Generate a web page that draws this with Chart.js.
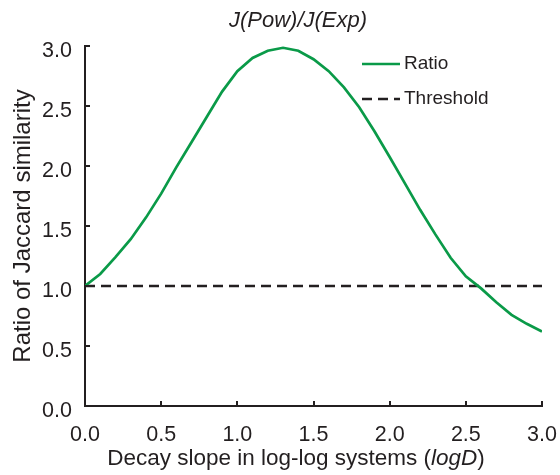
<!DOCTYPE html>
<html>
<head>
<meta charset="utf-8">
<script src="https://cdn.jsdelivr.net/npm/chart.js@4"></script>
<style>
  html, body { margin: 0; padding: 0; background: #fff; }
  #wrap { width: 560px; height: 475px; position: relative; }
</style>
</head>
<body>
<div id="wrap"><canvas id="c" width="560" height="475"></canvas></div>
<script>
// ---- data ----
const xValues = [0.0,0.1,0.2,0.3,0.4,0.5,0.6,0.7,0.8,0.9,1.0,1.1,1.2,1.3,1.4,1.5,1.6,1.7,1.8,1.9,2.0,2.1,2.2,2.3,2.4,2.5,2.6,2.7,2.8,2.9,3.0];
const ratioValues = [1.00,1.10,1.24,1.39,1.57,1.77,1.99,2.20,2.41,2.62,2.79,2.90,2.96,2.985,2.96,2.89,2.79,2.655,2.49,2.29,2.075,1.855,1.635,1.43,1.235,1.08,0.98,0.865,0.76,0.685,0.62];
const thresholdX = [0.0, 3.0];
const thresholdValues = [1.0, 1.0];
const xTickValues = [0.0,0.5,1.0,1.5,2.0,2.5,3.0];
const yTickValues = [0.0,0.5,1.0,1.5,2.0,2.5,3.0];
const seriesNames = ['Ratio', 'Threshold'];
const chartTitle = 'J(Pow)/J(Exp)';
const xTitleParts = [['Decay slope in log-log systems (', false], ['logD', true], [')', false]];
const yTitle = 'Ratio of Jaccard similarity';

const FONT = 'Arial, "Liberation Sans", sans-serif';
const INK = '#231f20';
const GREEN = '#0a9a48';

const ratioData = xValues.map((x, i) => ({x: x, y: ratioValues[i]}));
const thrData = thresholdX.map((x, i) => ({x: x, y: thresholdValues[i]}));

const decorPlugin = {
  id: 'decor',
  afterDraw(chart) {
    const ctx = chart.ctx;
    const xs = chart.scales.x, ys = chart.scales.y;
    ctx.save();
    // inward tick marks
    ctx.strokeStyle = INK;
    ctx.lineWidth = 2;
    const axX = xs.left, axY = ys.bottom;
    xTickValues.forEach(v => {
      const px = Math.round(xs.getPixelForValue(v));
      ctx.beginPath(); ctx.moveTo(px, axY); ctx.lineTo(px, axY - 5); ctx.stroke();
    });
    yTickValues.forEach(v => {
      const py = Math.round(ys.getPixelForValue(v));
      ctx.beginPath(); ctx.moveTo(axX, py); ctx.lineTo(axX + 5, py); ctx.stroke();
    });
    // title
    ctx.fillStyle = INK;
    ctx.font = 'italic 22px ' + FONT;
    ctx.textAlign = 'center';
    ctx.textBaseline = 'middle';
    ctx.fillText(chartTitle, 298, 21);
    // x title with italic part
    ctx.textAlign = 'left';
    ctx.textBaseline = 'alphabetic';
    let total = 0;
    xTitleParts.forEach(([t, it]) => { ctx.font = (it ? 'italic ' : '') + '22.5px ' + FONT; total += ctx.measureText(t).width; });
    let cx = 296 - total / 2;
    xTitleParts.forEach(([t, it]) => { ctx.font = (it ? 'italic ' : '') + '22.5px ' + FONT; ctx.fillText(t, cx, 465); cx += ctx.measureText(t).width; });
    // legend
    ctx.font = '19px ' + FONT;
    ctx.textBaseline = 'middle';
    ctx.lineWidth = 2.5;
    ctx.strokeStyle = GREEN;
    ctx.beginPath(); ctx.moveTo(362, 64); ctx.lineTo(400, 64); ctx.stroke();
    ctx.fillText(seriesNames[0], 404, 64);
    ctx.strokeStyle = INK;
    ctx.setLineDash([10, 6]);
    ctx.beginPath(); ctx.moveTo(362, 99); ctx.lineTo(400, 99); ctx.stroke();
    ctx.setLineDash([]);
    ctx.fillText(seriesNames[1], 404, 99);
    ctx.restore();
  }
};

new Chart(document.getElementById('c'), {
  type: 'line',
  data: {
    datasets: [
      { label: seriesNames[0], data: ratioData, borderColor: GREEN, borderWidth: 2.7, pointRadius: 0, tension: 0, fill: false },
      { label: seriesNames[1], data: thrData, borderColor: INK, borderWidth: 2.5, borderDash: [10, 6], pointRadius: 0, tension: 0, fill: false }
    ]
  },
  options: {
    responsive: false,
    animation: false,
    devicePixelRatio: 1,
    layout: { padding: { left: 0, right: 18, top: 46, bottom: 0 } },
    plugins: { legend: { display: false }, tooltip: { enabled: false }, title: { display: false } },
    scales: {
      x: {
        type: 'linear', min: 0, max: 3,
        afterFit(s) { s.height = 69; s.paddingRight = 0; s.paddingLeft = 0; },
        afterBuildTicks(s) { s.ticks = xTickValues.map(v => ({value: v})); },
        grid: { display: false, drawTicks: false },
        border: { display: true, color: INK, width: 2 },
        ticks: { padding: 16, color: INK, font: { family: FONT, size: 21.5 }, maxRotation: 0, callback: v => Number(v).toFixed(1) }
      },
      y: {
        type: 'linear', min: 0, max: 3,
        afterFit(s) { s.width = 85; s.paddingTop = 0; s.paddingBottom = 0; },
        afterBuildTicks(s) { s.ticks = yTickValues.map(v => ({value: v})); },
        grid: { display: false, drawTicks: false },
        border: { display: true, color: INK, width: 2 },
        ticks: { padding: 13, labelOffset: 5, color: INK, font: { family: FONT, size: 21.5 }, callback: v => Number(v).toFixed(1) },
        title: { display: true, text: yTitle, color: INK, font: { family: FONT, size: 24 }, padding: { top: 9, bottom: 0 } }
      }
    }
  },
  plugins: [decorPlugin]
});
</script>
</body>
</html>
